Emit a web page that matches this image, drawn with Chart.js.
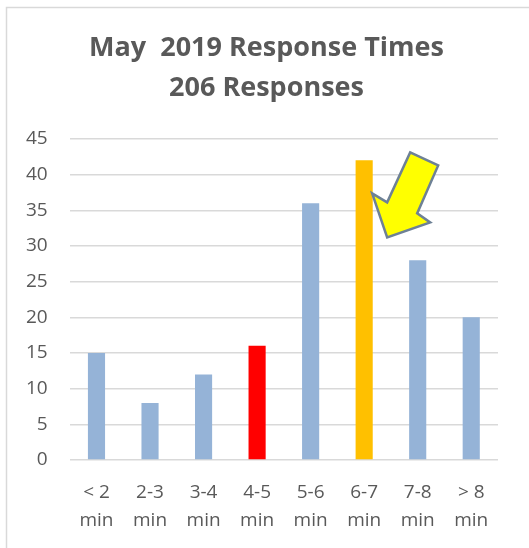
<!DOCTYPE html>
<html>
<head>
<meta charset="utf-8">
<script src="https://cdn.jsdelivr.net/npm/chart.js@4.4.0/dist/chart.umd.min.js"></script>
<style>
  html, body { margin: 0; padding: 0; background: #ffffff; }
  canvas { display: block; }
</style>
</head>
<body>
<canvas id="responseChart" width="529" height="548"></canvas>
<script>
// May 2019 response times chart

const categories = [['< 2', 'min'], ['2-3', 'min'], ['3-4', 'min'], ['4-5', 'min'], ['5-6', 'min'], ['6-7', 'min'], ['7-8', 'min'], ['> 8', 'min']];
const responses = [15, 8, 12, 16, 36, 42, 28, 20];
const barColors = ['#95B3D7', '#95B3D7', '#95B3D7', '#FF0000', '#95B3D7', '#FFC000', '#95B3D7', '#95B3D7'];
const titleLines = ['May  2019 Response Times', '206 Responses'];
const yTicks = [0, 5, 10, 15, 20, 25, 30, 35, 40, 45];
const arrowTarget = { index: 5, value: 31.2 };

const textGray = '#595959';
const gridGray = '#D9D9D9';

// outer frame of the chart box
const framePlugin = {
    id: 'frame',
    beforeDraw(chart) {
        const ctx = chart.ctx;
        ctx.save();
        ctx.fillStyle = '#ffffff';
        ctx.fillRect(0, 0, chart.width, chart.height);
        ctx.strokeStyle = '#D9D9D9';
        ctx.lineWidth = 1.5;
        ctx.strokeRect(6.5, 7.5, 700, 700);
        ctx.restore();
    }
};

// big yellow callout arrow pointing at the 6-7 min bar
const arrowPlugin = {
    id: 'arrow',
    afterDatasetsDraw(chart) {
        const ctx = chart.ctx;
        const tipX = chart.scales.x.getPixelForValue(arrowTarget.index) + 23;
        const tipY = chart.scales.y.getPixelForValue(arrowTarget.value);
        const shape = [[23, -85], [51, -72], [30, -24], [43, -15], [0, 0], [-15, -44], [0, -35]];
        ctx.save();
        ctx.beginPath();
        shape.forEach(function(p, i) {
            if (i === 0) ctx.moveTo(tipX + p[0], tipY + p[1]);
            else ctx.lineTo(tipX + p[0], tipY + p[1]);
        });
        ctx.closePath();
        ctx.fillStyle = '#FFFF00';
        ctx.fill();
        ctx.lineWidth = 2.5;
        ctx.lineJoin = 'miter';
        ctx.strokeStyle = '#6E8196';
        ctx.stroke();
        ctx.restore();
    }
};

const ctx = document.getElementById('responseChart').getContext('2d');

new Chart(ctx, {
    type: 'bar',
    data: {
        labels: categories,
        datasets: [{
            data: responses,
            backgroundColor: barColors,
            borderWidth: 0,
            barPercentage: 0.32,
            categoryPercentage: 1
        }]
    },
    options: {
        responsive: false,
        animation: false,
        layout: {
            padding: { left: 4, right: 0, top: 0, bottom: 0 }
        },
        plugins: {
            legend: { display: false },
            tooltip: { enabled: false },
            title: {
                display: true,
                text: titleLines,
                color: textGray,
                font: { family: 'Open Sans', size: 27, weight: 'bold', lineHeight: 1.48 },
                padding: { top: 28, bottom: 31 }
            }
        },
        scales: {
            x: {
                grid: { display: false, drawTicks: false },
                border: { display: false },
                ticks: {
                    color: textGray,
                    font: { family: 'Open Sans', size: 19, lineHeight: 1.45 },
                    padding: 19,
                    maxRotation: 0,
                    autoSkip: false
                },
                afterFit(axis) {
                    axis.height = 88;
                }
            },
            y: {
                min: 0,
                max: 45,
                afterBuildTicks(axis) {
                    axis.ticks = yTicks.map(v => ({ value: v }));
                },
                grid: {
                    color: gridGray,
                    lineWidth: 1.5,
                    drawTicks: false
                },
                border: { display: false },
                ticks: {
                    color: textGray,
                    font: { family: 'Open Sans', size: 19 },
                    padding: 22
                }
            },
            // empty right axis keeps the plot clear of the right edge
            yRight: {
                position: 'right',
                grid: { display: false, drawTicks: false },
                border: { display: false },
                ticks: { display: false },
                afterFit(axis) {
                    axis.width = 31;
                }
            }
        }
    },
    plugins: [framePlugin, arrowPlugin]
});
</script>
</body>
</html>
